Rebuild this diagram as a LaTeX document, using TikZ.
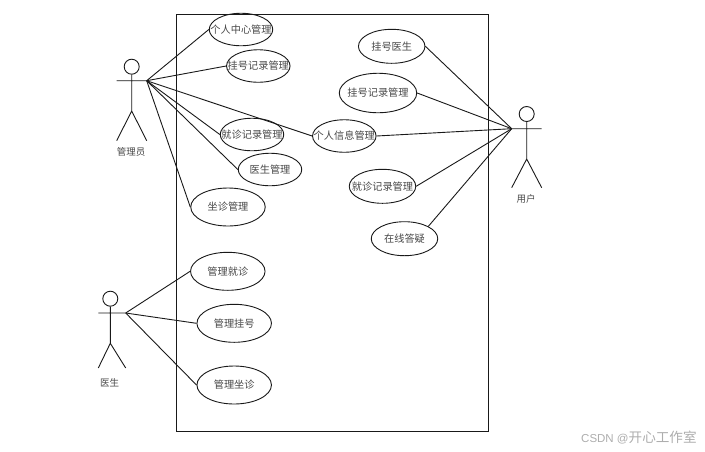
\documentclass[tikz,border=0pt]{standalone}
\usepackage{fontspec}
\setmainfont{Noto Sans CJK SC}
\setsansfont{Noto Sans CJK SC}
\newfontfamily\wmlatin{Liberation Sans}
\definecolor{ink}{gray}{0.1}
\definecolor{labelink}{gray}{0.28}
\definecolor{wm}{gray}{0.68}
\usetikzlibrary{shapes.geometric}
\newcommand{\uctext}[1]{\makebox[0pt][c]{#1}}
\tikzset{
  usecase/.style n args={2}{draw=ink,line width=0.9pt,ellipse,inner sep=0pt,minimum width=#1pt,minimum height=#2pt,text=labelink,font=\fontsize{10.2}{10.2}\selectfont},
  uc/.style={usecase={63.5}{32.5}},
  ucwide/.style={usecase={74.5}{38}},
  ucbig/.style={usecase={77.5}{39.5}},
  ucmid/.style={usecase={66.5}{34}},
  link/.style={draw=ink,line width=0.9pt},
  actorline/.style={draw=ink,line width=0.9pt},
  actorname/.style={text=labelink,font=\fontsize{9.5}{9.5}\selectfont,inner sep=0pt},
  head/.style={circle,draw=ink,line width=0.9pt,inner sep=0pt,minimum size=15pt},
}
\begin{document}
\begin{tikzpicture}[x=1pt,y=-1pt]
\useasboundingbox (0,0) rectangle (705,451);
\node[draw=ink,line width=0.9pt,minimum width=312.3pt,minimum height=416.7pt,inner sep=0pt] (system) at (332.15,223) {};

% actors
\node[head] (adminhead) at (131.7,66.7) {};
\coordinate (adminL) at (116.7,80.7);
\coordinate (adminR) at (146.7,80.7);
\coordinate (adminH) at (131.7,111);
\coordinate (adminLL) at (116.7,140.7);
\coordinate (adminRL) at (146.7,140.7);
\draw[actorline] (adminhead) -- (adminH) -- (adminLL) (adminH) -- (adminRL) (adminL) -- (adminR);
\node[actorname] (adminname) at (131,152) {管理员};

\node[head] (dochead) at (110.3,298.7) {};
\coordinate (docL) at (98.3,313);
\coordinate (docR) at (125.7,313);
\coordinate (docH) at (110.3,343.3);
\coordinate (docLL) at (98.3,368);
\coordinate (docRL) at (125.7,368);
\draw[actorline] (dochead) -- (docH) -- (docLL) (docH) -- (docRL) (docL) -- (docR);
\node[actorname] (docname) at (109.5,383) {医生};

\node[head] (userhead) at (526.7,114) {};
\coordinate (userL) at (511.7,128.7);
\coordinate (userR) at (541.7,128.7);
\coordinate (userH) at (526.7,159);
\coordinate (userLL) at (511.7,187.7);
\coordinate (userRL) at (541.7,187.7);
\draw[actorline] (userhead) -- (userH) -- (userLL) (userH) -- (userRL) (userL) -- (userR);
\node[actorname] (username) at (526,199) {用户};

% use cases
\node[uc] (a1) at (241,29.5) {\uctext{个人中心管理}};
\node[uc] (a2) at (258.3,66) {\uctext{挂号记录管理}};
\node[uc] (a3) at (252,134.5) {\uctext{就诊记录管理}};
\node[uc] (a4) at (344.3,136) {\uctext{个人信息管理}};
\node[uc] (a5) at (270,169.5) {\uctext{医生管理}};
\node[ucwide] (a6) at (228,207) {\uctext{坐诊管理}};

\node[ucmid] (u1) at (391.7,46.3) {\uctext{挂号医生}};
\node[ucbig] (u2) at (378,93) {\uctext{挂号记录管理}};
\node[ucmid] (u3) at (382.5,186.3) {\uctext{就诊记录管理}};
\node[ucmid] (u4) at (404.5,238.7) {\uctext{在线答疑}};

\node[ucwide] (d1) at (227.8,271.3) {\uctext{管理就诊}};
\node[ucwide] (d2) at (234.2,323.3) {\uctext{管理挂号}};
\node[ucwide] (d3) at (234.2,385) {\uctext{管理坐诊}};

% connectors
\foreach \t in {a1,a2,a3,a4,a5,a6} \draw[link] (adminR) -- (\t.west);
\foreach \t in {d1,d2,d3} \draw[link] (docR) -- (\t.west);
\draw[link] (userL) -- (u1.east);
\draw[link] (userL) -- (u2.east);
\draw[link] (userL) -- (a4.east);
\draw[link] (userL) -- (u3.east);
\draw[link] (userL) -- (u4.north east);

\node[text=wm,inner sep=0pt,anchor=west] (mark) at (581,438) {{\wmlatin\fontsize{11.5}{12}\selectfont CSDN @}{\fontsize{13.6}{14}\selectfont 开心工作室}};
\end{tikzpicture}
\end{document}
